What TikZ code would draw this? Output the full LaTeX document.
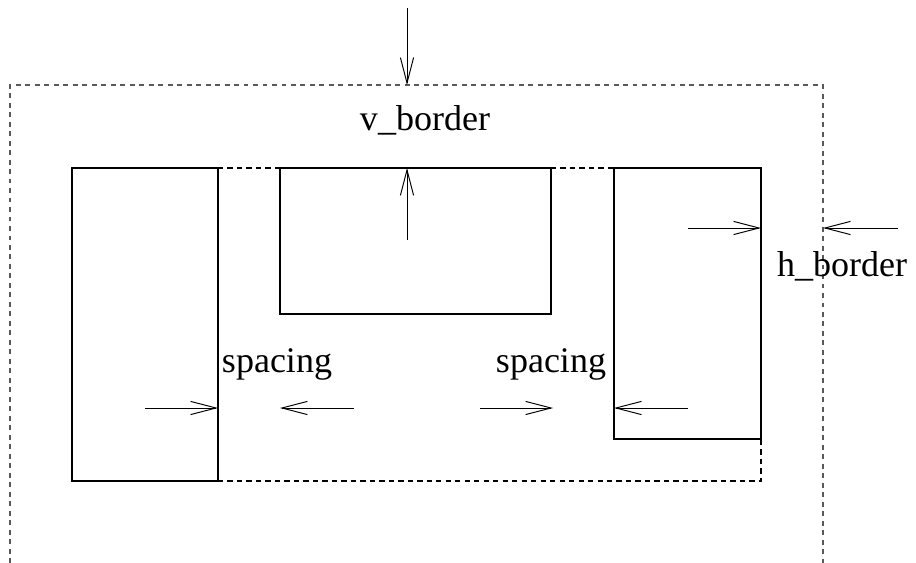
\documentclass[tikz,border=0pt]{standalone}
\usepackage{fontspec}
\setmainfont{Liberation Serif}
\usetikzlibrary{arrows.meta}
\tikzset{
  boxline/.style={line width=1.5pt},
  outerdash/.style={gray!70!black, line width=0.6pt, dash pattern=on 2.8pt off 2.6pt},
  innerdash/.style={line width=0.6pt, dash pattern=on 3pt off 2.4pt},
  measure/.style={line width=0.55pt, -{Straight Barb[length=14.5pt,width=7.5pt,line width=0.55pt]}},
  lbl/.style={inner sep=0pt, anchor=base, font=\fontsize{20.5}{24}\selectfont}
}
\begin{document}
\begin{tikzpicture}[x=0.02cm, y=-0.02cm]
  \useasboundingbox (0,0) rectangle (916,563);
  % Rand (gestrichelt)
  \draw[outerdash] (10,563) -- (10,85) -- (823,85) -- (823,563);

  % Kästen
  \draw[boxline] (72,168) rectangle (218,481);
  \draw[boxline] (280,168) rectangle (551,314);
  \draw[boxline] (614,168) rectangle (761,439);

  % Hüllkurve der Kästen
  \draw[innerdash] (218,168) -- (280,168) (551,168) -- (614,168);
  \draw[innerdash] (218,481) -- (761,481) -- (761,439);

  % Endpunkte der Pfeile
  \coordinate (vtop) at (407,8);
  \coordinate (vtopend) at (407,85);
  \coordinate (vin) at (407,240);
  \coordinate (vinend) at (407,168);
  \coordinate (hin) at (688,228);
  \coordinate (hinend) at (761,228);
  \coordinate (hout) at (898,228);
  \coordinate (houtend) at (823,228);
  \coordinate (s1) at (145,408);
  \coordinate (s1end) at (218,408);
  \coordinate (s2) at (354,408);
  \coordinate (s2end) at (280,408);
  \coordinate (s3) at (480,408);
  \coordinate (s3end) at (553,408);
  \coordinate (s4) at (688,408);
  \coordinate (s4end) at (614,408);

  % Pfeile
  \draw[measure] (vtop) -- (vtopend);
  \draw[measure] (vin) -- (vinend);
  \draw[measure] (hin) -- (hinend);
  \draw[measure] (hout) -- (houtend);
  \draw[measure] (s1) -- (s1end);
  \draw[measure] (s2) -- (s2end);
  \draw[measure] (s3) -- (s3end);
  \draw[measure] (s4) -- (s4end);

  % Beschriftung
  \node[lbl] (vlabel) at (425,131) {v\_border};
  \node[lbl] (hlabel) at (842,277) {h\_border};
  \node[lbl] (spacingl) at (277,373) {spacing};
  \node[lbl] (spacingr) at (551,373) {spacing};
\end{tikzpicture}
\end{document}
